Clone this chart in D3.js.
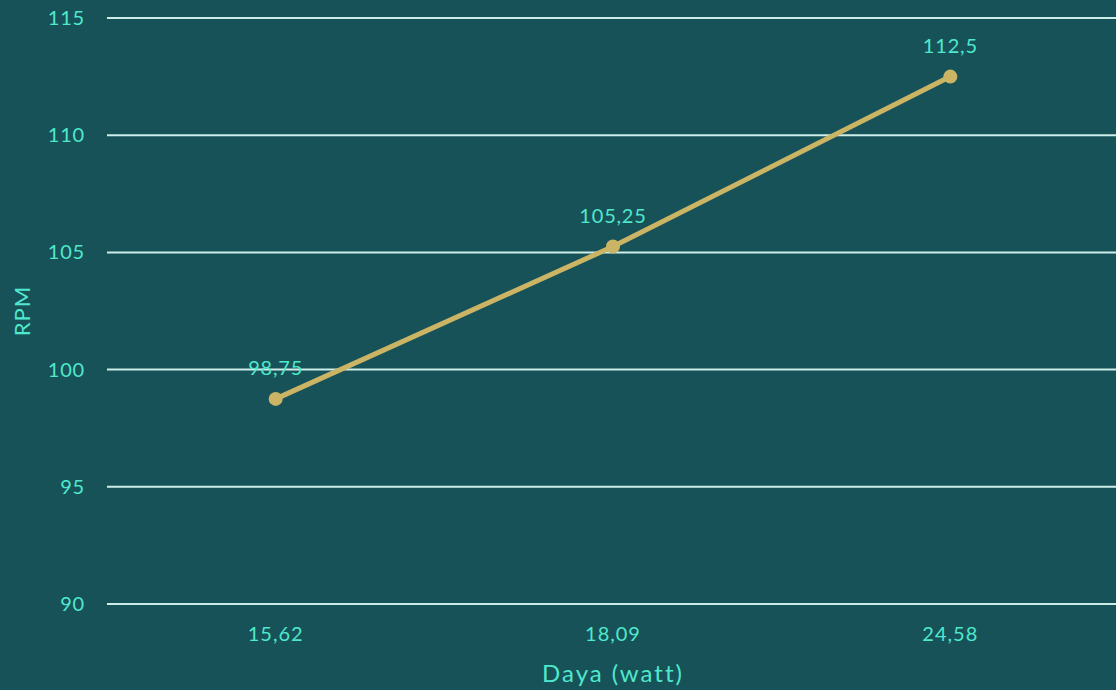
<!DOCTYPE html>
<html lang="id">
<head>
<meta charset="UTF-8">
<title>RPM vs Daya</title>
<script src="https://d3js.org/d3.v7.min.js"></script>
<style>
  body { margin: 0; padding: 0; background: #175259; }
  svg { display: block; font-family: "Lato", "Noto Sans", sans-serif; }
</style>
</head>
<body>
<div id="chart"></div>
<script>
// data
const categories = ["15,62", "18,09", "24,58"];
const rpm = [98.75, 105.25, 112.5];
const valueLabels = ["98,75", "105,25", "112,5"];
const yTicks = [90, 95, 100, 105, 110, 115];

const width = 1116, height = 690;
const margin = {top: 18, right: -3, bottom: 86, left: 107};

const svg = d3.select("#chart").append("svg")
    .attr("width", width)
    .attr("height", height);

svg.append("rect").attr("width", width).attr("height", height).attr("fill", "#175259");

const x = d3.scaleBand()
    .domain(categories)
    .range([margin.left, width - margin.right]);

const y = d3.scaleLinear()
    .domain([90, 115])
    .range([height - margin.bottom, margin.top]);

const textColor = "#4fe8cc";

// gridlines
svg.append("g")
  .selectAll("line")
  .data(yTicks)
  .join("line")
    .attr("x1", margin.left)
    .attr("x2", width)
    .attr("y1", d => y(d))
    .attr("y2", d => y(d))
    .attr("stroke", "#cdeee8")
    .attr("stroke-width", 2);

// y axis labels
const yAxis = svg.append("g")
    .attr("transform", `translate(${margin.left},0)`)
    .call(d3.axisLeft(y).tickValues(yTicks).tickSize(0).tickPadding(22));
yAxis.select(".domain").remove();
yAxis.selectAll("text")
    .attr("fill", textColor)
    .style("font-size", "20px")
    .style("letter-spacing", "0.8px")
    .style("font-family", "Lato, sans-serif");

// x axis labels
const xAxis = svg.append("g")
    .attr("transform", `translate(0,${height - margin.bottom})`)
    .call(d3.axisBottom(x).tickSize(0).tickPadding(23));
xAxis.select(".domain").remove();
xAxis.selectAll("text")
    .attr("fill", textColor)
    .style("font-size", "20px")
    .style("letter-spacing", "1px")
    .style("font-family", "Lato, sans-serif");

// axis titles
svg.append("text")
    .attr("x", x("18,09") + x.bandwidth() / 2)
    .attr("y", 682)
    .attr("text-anchor", "middle")
    .attr("fill", textColor)
    .style("font-size", "24px")
    .style("letter-spacing", "2px")
    .text("Daya (watt)");

svg.append("text")
    .attr("transform", `translate(30,${(margin.top + height - margin.bottom) / 2}) rotate(-90)`)
    .attr("text-anchor", "middle")
    .attr("fill", textColor)
    .style("font-size", "22px")
    .style("letter-spacing", "1px")
    .text("RPM");

// line
const pts = categories.map((c, i) => [x(c) + x.bandwidth() / 2, y(rpm[i])]);

svg.append("path")
    .datum(pts)
    .attr("d", d3.line())
    .attr("fill", "none")
    .attr("stroke", "#cbb565")
    .attr("stroke-width", 5)
    .attr("stroke-linecap", "round");

svg.append("g")
  .selectAll("circle")
  .data(pts)
  .join("circle")
    .attr("cx", d => d[0])
    .attr("cy", d => d[1])
    .attr("r", 7)
    .attr("fill", "#cbb565");

svg.append("g")
  .selectAll("text")
  .data(pts)
  .join("text")
    .attr("x", d => d[0])
    .attr("y", d => d[1] - 24)
    .attr("text-anchor", "middle")
    .attr("fill", textColor)
    .style("font-size", "20px")
    .style("letter-spacing", "0.8px")
    .text((d, i) => valueLabels[i]);
</script>
</body>
</html>
